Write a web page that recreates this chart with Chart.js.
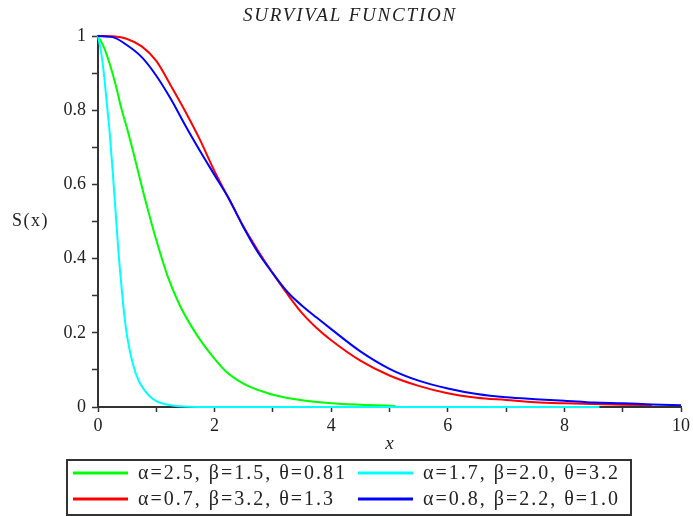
<!DOCTYPE html>
<html>
<head>
<meta charset="utf-8">
<script src="https://cdn.jsdelivr.net/npm/chart.js@4.4.1/dist/chart.umd.min.js"></script>
<style>
  html, body { margin: 0; padding: 0; background: #fff; }
  canvas { display: block; }
</style>
</head>
<body>
<canvas id="survChart" width="693" height="516"></canvas>
<script>
// values
const greenX = [0, 0.1, 0.2, 0.3, 0.4, 0.5, 0.6, 0.8, 1.0, 1.2, 1.4, 1.6, 1.8, 2.0, 2.2, 2.4, 2.6, 2.8, 3.0, 3.5, 4.0, 4.5, 5.1];
const greenS = [1, 0.97, 0.925, 0.87, 0.805, 0.75, 0.69, 0.565, 0.45, 0.35, 0.275, 0.218, 0.17, 0.13, 0.095, 0.072, 0.055, 0.043, 0.033, 0.018, 0.01, 0.006, 0.003];

const cyanX = [0, 0.05, 0.1, 0.15, 0.2, 0.25, 0.3, 0.35, 0.4, 0.45, 0.5, 0.6, 0.7, 0.8, 0.9, 1.0, 1.2, 1.4, 1.7, 3, 5, 7, 8.6];
const cyanS = [1, 0.96, 0.9, 0.82, 0.74, 0.64, 0.53, 0.42, 0.33, 0.25, 0.19, 0.115, 0.07, 0.045, 0.027, 0.016, 0.006, 0.002, 0, 0, 0, 0, 0];

const redX = [0, 0.25, 0.5, 0.75, 1.0, 1.25, 1.5, 1.75, 2.0, 2.25, 2.5, 2.75, 3.0, 3.25, 3.5, 3.75, 4.0, 4.5, 5.0, 5.5, 6.0, 6.5, 7.0, 7.5, 8.0, 8.5, 9.0, 9.5];
const redS = [1, 0.999, 0.992, 0.972, 0.933, 0.866, 0.796, 0.72, 0.635, 0.56, 0.485, 0.42, 0.36, 0.304, 0.253, 0.213, 0.18, 0.125, 0.085, 0.057, 0.037, 0.025, 0.019, 0.013, 0.01, 0.008, 0.006, 0.005];

const blueX = [0, 0.25, 0.5, 0.75, 1.0, 1.25, 1.5, 1.75, 2.0, 2.25, 2.5, 2.75, 3.0, 3.25, 3.5, 3.75, 4.0, 4.5, 5.0, 5.5, 6.0, 6.5, 7.0, 7.5, 8.0, 8.5, 9.0, 9.5, 10];
const blueS = [1, 0.997, 0.975, 0.943, 0.893, 0.83, 0.758, 0.69, 0.625, 0.56, 0.483, 0.415, 0.36, 0.31, 0.273, 0.241, 0.21, 0.15, 0.103, 0.071, 0.05, 0.035, 0.026, 0.021, 0.017, 0.012, 0.01, 0.007, 0.005];

const labels = [
  "α=2.5, β=1.5, θ=0.81",
  "α=1.7, β=2.0, θ=3.2",
  "α=0.7, β=3.2, θ=1.3",
  "α=0.8, β=2.2, θ=1.0"
];

function toPoints(xs, ys) {
  return xs.map((x, i) => ({ x: x, y: ys[i] }));
}

function makeSet(label, xs, ys, color, order) {
  return {
    label: label,
    data: toPoints(xs, ys),
    borderColor: color,
    backgroundColor: color,
    borderWidth: 2,
    pointRadius: 0,
    showLine: true,
    cubicInterpolationMode: "monotone",
    clip: 5,
    order: order
  };
}

const SERIF = "'Liberation Serif', 'Times New Roman', Tinos, serif";

// title, axis names and the boxed legend
const decor = {
  id: "decor",
  afterDraw(chart) {
    const ctx = chart.ctx;
    const area = chart.chartArea;
    ctx.save();
    ctx.fillStyle = "#222";
    ctx.textBaseline = "middle";

    ctx.font = "italic 19px " + SERIF;
    ctx.textAlign = "center";
    ctx.letterSpacing = "1.8px";
    ctx.fillText("SURVIVAL FUNCTION", 350, 16);

    ctx.font = "italic 19px " + SERIF;
    ctx.letterSpacing = "0px";
    ctx.fillText("x", (area.left + area.right) / 2, 444);

    ctx.font = "18px " + SERIF;
    ctx.textAlign = "left";
    ctx.letterSpacing = "1.5px";
    ctx.fillText("S(x)", 12, (area.top + area.bottom) / 2);

    // legend box
    ctx.strokeStyle = "#333";
    ctx.lineWidth = 2;
    ctx.strokeRect(67, 460, 564, 55);

    const slots = [
      { ds: 0, lx: 73, ty: 473 },
      { ds: 1, lx: 358, ty: 473 },
      { ds: 2, lx: 73, ty: 499 },
      { ds: 3, lx: 358, ty: 499 }
    ];
    ctx.font = "20px " + SERIF;
    ctx.letterSpacing = "2px";
    slots.forEach((s) => {
      const d = chart.data.datasets[s.ds];
      ctx.strokeStyle = d.borderColor;
      ctx.lineWidth = 3;
      ctx.beginPath();
      ctx.moveTo(s.lx, s.ty);
      ctx.lineTo(s.lx + 55, s.ty);
      ctx.stroke();
      ctx.fillStyle = "#222";
      ctx.fillText(d.label, s.lx + 65, s.ty + 1);
    });
    ctx.restore();
  }
};

new Chart(document.getElementById("survChart"), {
  type: "scatter",
  data: {
    datasets: [
      makeSet(labels[0], greenX, greenS, "#00ff00", 4),
      makeSet(labels[1], cyanX, cyanS, "#00ffff", 3),
      makeSet(labels[2], redX, redS, "#ff0000", 2),
      makeSet(labels[3], blueX, blueS, "#0000ff", 1)
    ]
  },
  options: {
    responsive: false,
    devicePixelRatio: 1,
    animation: false,
    layout: { padding: { top: 36, left: 0, right: 10, bottom: 0 } },
    plugins: {
      legend: { display: false },
      title: { display: false },
      tooltip: { enabled: false }
    },
    scales: {
      x: {
        type: "linear",
        min: 0,
        max: 10,
        afterFit: (scale) => { scale.height = 109; },
        border: { display: true, color: "#333", width: 2 },
        grid: { drawOnChartArea: false, drawTicks: true, tickLength: 5, tickColor: "#333", tickWidth: 1.5 },
        ticks: {
          stepSize: 1,
          padding: 3,
          maxRotation: 0,
          autoSkip: false,
          color: "#222",
          font: { family: SERIF, size: 18 },
          callback: (v) => (v % 2 === 0 ? String(v) : "")
        }
      },
      y: {
        min: 0,
        max: 1,
        afterFit: (scale) => { scale.width = 98; },
        border: { display: true, color: "#333", width: 2 },
        grid: { drawOnChartArea: false, drawTicks: true, tickLength: 6, tickColor: "#333", tickWidth: 1.5 },
        ticks: {
          stepSize: 0.1,
          padding: 6,
          autoSkip: false,
          color: "#222",
          font: { family: SERIF, size: 18 },
          callback: (v) => {
            const k = Math.round(v * 10);
            if (k % 2 !== 0) return "";
            if (k === 0) return "0";
            if (k === 10) return "1";
            return (k / 10).toFixed(1);
          }
        }
      }
    }
  },
  plugins: [decor]
});
</script>
</body>
</html>
